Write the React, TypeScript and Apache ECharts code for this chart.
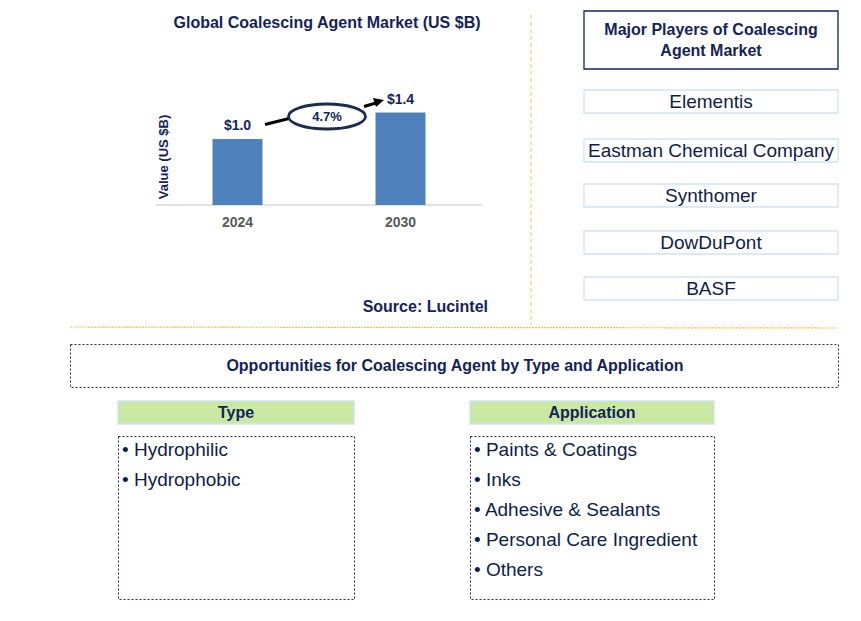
import React, { useEffect, useRef } from "react";
import * as echarts from "echarts";

const years = ["2024", "2030"];
const marketValues = [1.0, 1.4];
const cagrLabel = "4.7%";
const players = ["Elementis", "Eastman Chemical Company", "Synthomer", "DowDuPont", "BASF"];
const typeItems = ["Hydrophilic", "Hydrophobic"];
const applicationItems = ["Paints & Coatings", "Inks", "Adhesive & Sealants", "Personal Care Ingredient", "Others"];

const FONT = 'Arial, "Liberation Sans", sans-serif';
const NAVY = "#13235b";
const TEXT = "#0e1d4e";

export default function App() {
  const ref = useRef<HTMLDivElement>(null);
  useEffect(() => {
    if (!ref.current) return;
    const chart = echarts.init(ref.current, null, { renderer: "svg" });
    const playerTops = [90, 139, 184, 231, 277];
    const graphic: any[] = [];
    // title
    graphic.push({
      type: "text", x: 327, y: 22,
      style: { text: "Global Coalescing Agent Market (US $B)", font: `bold 16px ${FONT}`, fill: NAVY, textAlign: "center", textVerticalAlign: "middle" },
    });
    // y axis name
    graphic.push({
      type: "text", x: 163, y: 157, rotation: Math.PI / 2,
      style: { text: "Value (US $B)", font: `bold 13px ${FONT}`, fill: NAVY, textAlign: "center", textVerticalAlign: "middle" },
    });
    // arrows and ellipse
    graphic.push({ type: "line", shape: { x1: 265, y1: 124.5, x2: 289, y2: 118.5 }, style: { stroke: "#000", lineWidth: 3 } });
    graphic.push({ type: "line", shape: { x1: 364, y1: 106.5, x2: 376, y2: 103 }, style: { stroke: "#000", lineWidth: 3 } });
    graphic.push({ type: "polygon", shape: { points: [[384, 100], [373, 98], [376, 107]] }, style: { fill: "#000" } });
    graphic.push({ type: "ellipse", shape: { cx: 327, cy: 116.5, rx: 38.5, ry: 12.5 }, style: { fill: "#fff", stroke: "#1c2b50", lineWidth: 2.8 } });
    graphic.push({
      type: "text", x: 327, y: 116.5,
      style: { text: cagrLabel, font: `bold 13px ${FONT}`, fill: NAVY, textAlign: "center", textVerticalAlign: "middle" },
    });
    // source
    graphic.push({
      type: "text", x: 488, y: 306,
      style: { text: "Source: Lucintel", font: `bold 16px ${FONT}`, fill: NAVY, textAlign: "right", textVerticalAlign: "middle" },
    });
    // separators
    graphic.push({ type: "line", shape: { x1: 531, y1: 15, x2: 531, y2: 325 }, style: { stroke: "#f2c050", lineWidth: 1, lineDash: [4, 3] } });
    graphic.push({ type: "line", shape: { x1: 70, y1: 327, x2: 838, y2: 328 }, style: { stroke: "#f5c242", lineWidth: 1.2, lineDash: [2, 1] } });
    // major players
    graphic.push({ type: "rect", shape: { x: 584, y: 11, width: 254, height: 58 }, style: { fill: "#fff", stroke: "#13235b", lineWidth: 1.3 } });
    graphic.push({
      type: "text", x: 711, y: 40,
      style: { text: "Major Players of Coalescing\nAgent Market", font: `bold 16px ${FONT}`, lineHeight: 21, fill: NAVY, textAlign: "center", textVerticalAlign: "middle" },
    });
    players.forEach((p, i) => {
      const top = playerTops[i];
      graphic.push({ type: "rect", shape: { x: 584, y: top, width: 254, height: 23 }, style: { fill: "#fff", stroke: "#cfe4f4", lineWidth: 1.3 } });
      graphic.push({
        type: "text", x: 711, y: top + 11.5,
        style: { text: p, font: `19px ${FONT}`, fill: TEXT, textAlign: "center", textVerticalAlign: "middle" },
      });
    });
    // opportunities
    graphic.push({ type: "rect", shape: { x: 70.5, y: 344.5, width: 768, height: 43 }, style: { fill: "none", stroke: "#1f2d5a", lineWidth: 1, lineDash: [2, 2] } });
    graphic.push({
      type: "text", x: 455, y: 365,
      style: { text: "Opportunities for Coalescing Agent by Type and Application", font: `bold 16px ${FONT}`, fill: NAVY, textAlign: "center", textVerticalAlign: "middle" },
    });
    const cols = [
      { x: 118, w: 236, title: "Type", items: typeItems },
      { x: 470, w: 244, title: "Application", items: applicationItems },
    ];
    cols.forEach((c) => {
      graphic.push({ type: "rect", shape: { x: c.x, y: 401, width: c.w, height: 23 }, style: { fill: "#c9e8a2", stroke: "#cfe4f4", lineWidth: 1.3 } });
      graphic.push({
        type: "text", x: c.x + c.w / 2, y: 412.5,
        style: { text: c.title, font: `bold 16px ${FONT}`, fill: NAVY, textAlign: "center", textVerticalAlign: "middle" },
      });
      graphic.push({ type: "rect", shape: { x: c.x + 0.5, y: 436.5, width: c.w, height: 163 }, style: { fill: "none", stroke: "#1f2d5a", lineWidth: 1, lineDash: [2, 2] } });
      c.items.forEach((it, j) => {
        graphic.push({
          type: "text", x: c.x + 4, y: 449 + j * 30,
          style: { text: "\u2022 " + it, font: `19px ${FONT}`, fill: TEXT, textAlign: "left", textVerticalAlign: "middle" },
        });
      });
    });

    chart.setOption({
      animation: false,
      textStyle: { fontFamily: FONT },
      grid: { left: 156, width: 326, top: 71, height: 134 },
      xAxis: {
        type: "category",
        data: years,
        axisLine: { lineStyle: { color: "#d9d9d9", width: 1.5 } },
        axisTick: { show: false },
        axisLabel: { fontWeight: "bold", fontSize: 14, color: "#595959", margin: 10, fontFamily: FONT },
      },
      yAxis: {
        type: "value", min: 0, max: 2.03,
        axisLine: { show: false }, axisTick: { show: false }, axisLabel: { show: false }, splitLine: { show: false },
      },
      series: [
        {
          type: "bar",
          data: marketValues,
          barWidth: 50,
          itemStyle: { color: "#4f81bd" },
          label: {
            show: true, position: "top", distance: 7,
            formatter: (p: any) => "$" + Number(p.value).toFixed(1),
            fontWeight: "bold", fontSize: 14, color: NAVY, fontFamily: FONT,
          },
        },
      ],
      graphic,
    });
    return () => chart.dispose();
  }, []);
  return <div ref={ref} style={{ position: "fixed", left: 0, top: 0, width: 861, height: 621, background: "#fff" }} />;
}
